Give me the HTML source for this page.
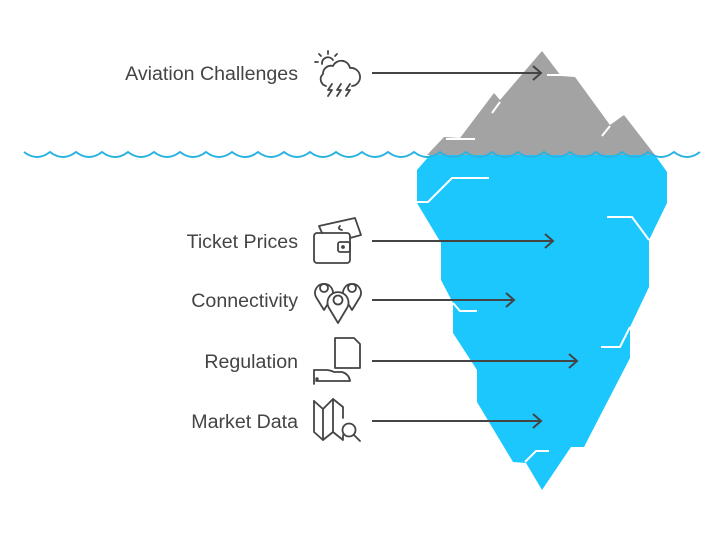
<!DOCTYPE html>
<html><head><meta charset="utf-8"><style>
html,body{margin:0;padding:0;background:#fff;}
body{width:723px;height:542px;overflow:hidden;}
svg{display:block}
text{font-family:"Liberation Sans",sans-serif;font-size:19.6px;fill:#444;}
</style></head><body>
<svg width="723" height="542" viewBox="0 0 723 542" xmlns="http://www.w3.org/2000/svg">
<polygon points="542,51 561,76 575,77 610,125 624,115 655,155 427,155 444,137 460,138 494,93 500,100" fill="#a3a3a3"/>
<g stroke="#fff" stroke-width="2" fill="none">
<line x1="547" y1="75" x2="574" y2="75"/>
<line x1="492" y1="113" x2="500" y2="102"/>
<line x1="446" y1="139" x2="475" y2="139"/>
<line x1="602" y1="136" x2="610" y2="126"/>
</g>
<polygon points="430,155 655,155 667,172 667,203 649,240 649,287 630,327 630,358 584,447 571,447 542,490 526,463 513,462 477,402 477,370 453,333 453,303 441,280 441,243 417,203 417,170" fill="#1cc7fe"/>
<g stroke="#fff" stroke-width="2" fill="none">
<polyline points="417,202 428,202 452,178 489,178"/>
<polyline points="607,217 632,217 649,240"/>
<polyline points="453,303 460,311 477,311"/>
<polyline points="601,347 620,347 630,327"/>
<polyline points="525,462 536,451 549,451"/>
</g>
<path fill="none" stroke="#2bb3e0" stroke-width="2" d="M24,152 Q37,162 50,152 Q63,162 76,152 Q89,162 102,152 Q115,162 128,152 Q141,162 154,152 Q167,162 180,152 Q193,162 206,152 Q219,162 232,152 Q245,162 258,152 Q271,162 284,152 Q297,162 310,152 Q323,162 336,152 Q349,162 362,152 Q375,162 388,152 Q401,162 414,152 Q427,162 440,152 Q453,162 466,152 Q479,162 492,152 Q505,162 518,152 Q531,162 544,152 Q557,162 570,152 Q583,162 596,152 Q609,162 622,152 Q635,162 648,152 Q661,162 674,152 Q687,162 700,152"/>
<g stroke="#444" stroke-width="2" fill="none">
<line x1="372" y1="73" x2="541" y2="73"/><polyline points="533,66 541,73 533,80"/>
<line x1="372" y1="241" x2="553" y2="241"/><polyline points="545,234 553,241 545,248"/>
<line x1="372" y1="300" x2="514" y2="300"/><polyline points="506,293 514,300 506,307"/>
<line x1="372" y1="361" x2="577" y2="361"/><polyline points="569,354 577,361 569,368"/>
<line x1="372" y1="421" x2="541" y2="421"/><polyline points="533,414 541,421 533,428"/>
</g>
<text x="298" y="80" text-anchor="end">Aviation Challenges</text>
<text x="298" y="248" text-anchor="end">Ticket Prices</text>
<text x="298" y="307" text-anchor="end">Connectivity</text>
<text x="298" y="368" text-anchor="end">Regulation</text>
<text x="298" y="428" text-anchor="end">Market Data</text>
<g stroke="#444" stroke-width="1.8" fill="none" stroke-linecap="round" stroke-linejoin="round">
<path d="M322,64 a6,6 0 0 1 11,-4"/>
<line x1="328" y1="51" x2="328" y2="54"/><line x1="315" y1="62" x2="318" y2="62"/><line x1="319" y1="54" x2="321" y2="56"/><line x1="337" y1="54" x2="335" y2="56"/>
<path d="M326,86 a7,7 0 0 1 -3,-12 a8,8 0 0 1 10,-8 a9,9 0 0 1 17,2 a7,7 0 0 1 2,18"/>
<polyline points="332,84 328,90 332,90 328,96"/><polyline points="341,84 337,90 341,90 337,96"/><polyline points="350,84 346,90 350,90 346,96"/>
<rect x="314" y="233" width="36" height="30" rx="3"/>
<rect x="338" y="242" width="12" height="10" rx="2"/><circle cx="343" cy="247" r="1" fill="#444"/>
<polyline points="322,233 319,226 355,218 361,235 350,238"/>
<path d="M340,226 q-3,3 2,4"/>
<path d="M324,310 l-8,-13 a9,9 0 1 1 16,0 z"/><circle cx="324" cy="288" r="4"/>
<path d="M352,310 l-8,-13 a9,9 0 1 1 16,0 z"/><circle cx="352" cy="288" r="4"/>
<path d="M338,323 l-9,-15 a10.5,10.5 0 1 1 18,0 z" fill="#fff"/><circle cx="338" cy="300" r="4.5"/>
<path d="M335,338 h19 l6,6 v24 h-25 z"/>
<path d="M314,370 h12 q4,0 8,2 h8 q7,2 8,9 h-34"/>
<line x1="314" y1="370" x2="314" y2="384"/>
<circle cx="317" cy="379" r="0.8" fill="#444"/>
<polyline points="314,401 314,432 323,440 333,432 343,440 343,435"/>
<polyline points="314,401 323,409 333,399 343,407 343,418"/>
<line x1="323" y1="409" x2="323" y2="440"/><line x1="333" y1="399" x2="333" y2="432"/>
<circle cx="349" cy="430" r="6.5"/><line x1="354" y1="435" x2="360" y2="441"/>
</g>
</svg>
</body></html>
